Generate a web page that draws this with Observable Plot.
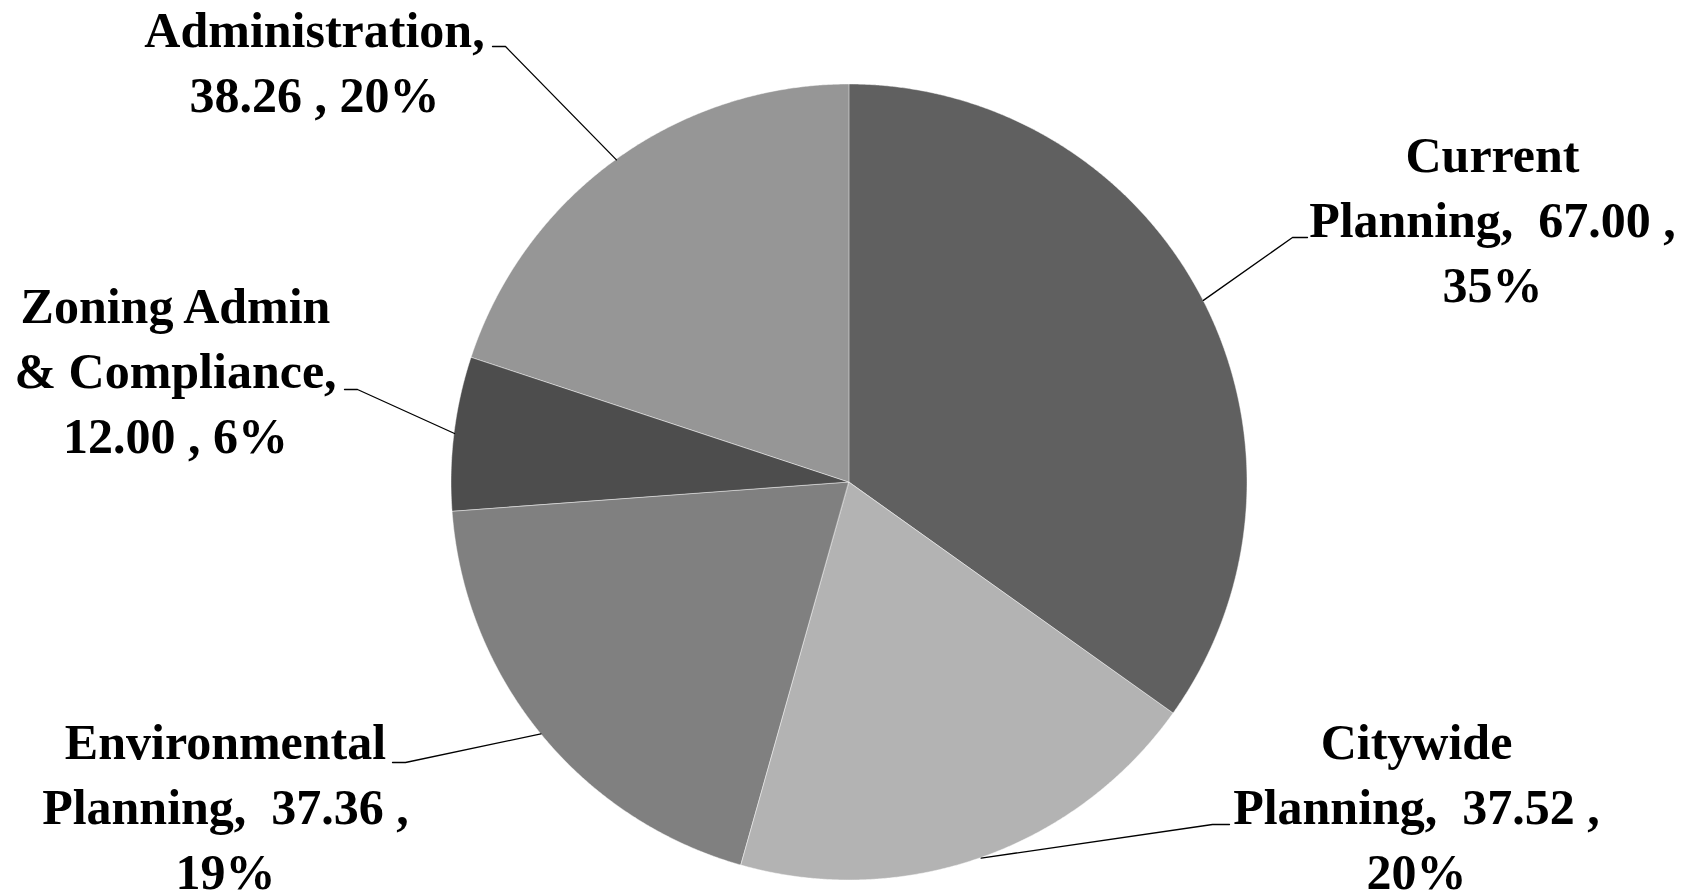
<!DOCTYPE html>
<html>
<head>
<meta charset="utf-8">
<script src="https://cdn.jsdelivr.net/npm/d3@7"></script>
<script src="https://cdn.jsdelivr.net/npm/@observablehq/plot@0.6"></script>
<style>
  html, body { margin: 0; padding: 0; background: #fff; }
  svg text { white-space: pre; }
</style>
</head>
<body>
<div id="chart"></div>
<script>
// ---- data (clockwise from 12 o'clock) ----
const categories = ["Current Planning", "Citywide Planning", "Environmental Planning", "Zoning Admin & Compliance", "Administration"];
const values = [67.00, 37.52, 37.36, 12.00, 38.26];
const colors = ["#606060", "#b3b3b3", "#808080", "#4d4d4d", "#969696"];
// label wrapping as in the reference (line breaks before the value)
const labelHead = ["Current\nPlanning,  ", "Citywide\nPlanning,  ", "Environmental\nPlanning,  ", "Zoning Admin\n& Compliance,\n", "Administration,\n"];
const labelMid = [" ,\n", " ,\n", " ,\n", " , ", " , "];

// ---- layout ----
const W = 1694, H = 893;
const cx = 849, cy = 482, R = 398;
const fontSize = 50;
const lift = 12;
// label block: center x, baseline of first line
const labelPos = [[1492, 173], [1416, 760], [225, 760], [175, 324], [314, 47.5]];
// leader: elbow point and end near text
const leaderText = [[[1292, 237], [1307, 237]], [[1212, 824], [1229, 824]], [[405, 762], [392, 762]], [[357, 389], [344, 389]], [[505, 46], [492, 46]]];

const total = d3.sum(values);
const pie = d3.pie().sort(null).value(d => d)(values);

// sector polygons sampled along the arc
const sectors = [];
pie.forEach((p, i) => {
  const n = Math.max(2, Math.ceil((p.endAngle - p.startAngle) / (Math.PI / 720)));
  for (let k = 0; k <= n; k++) {
    const a = p.startAngle + (p.endAngle - p.startAngle) * k / n;
    sectors.push({name: categories[i], x: cx + R * Math.sin(a), y: cy - R * Math.cos(a)});
  }
});

const leaders = [];
pie.forEach((p, i) => {
  const a = (p.startAngle + p.endAngle) / 2;
  leaders.push({name: categories[i], x: cx + R * Math.sin(a), y: cy - R * Math.cos(a)});
  leaderText[i].forEach(([x, y]) => leaders.push({name: categories[i], x, y}));
});

const labels = categories.map((c, i) => ({
  name: c,
  text: labelHead[i] + values[i].toFixed(2) + labelMid[i] + Math.round(values[i] / total * 100) + "%",
  x: labelPos[i][0],
  y: labelPos[i][1] - 0.71 * fontSize - lift
}));

const chart = Plot.plot({
  width: W, height: H,
  margin: 0,
  x: {domain: [0, W], range: [0, W], axis: null},
  y: {domain: [0, H], range: [0, H], axis: null},
  color: {domain: categories, range: colors},
  style: {background: "#fff", overflow: "visible"},
  marks: [
    Plot.area(sectors, {x1: cx, y1: cy, x2: "x", y2: "y", z: "name", fill: "name", stroke: "#fff", strokeWidth: 1, strokeOpacity: 0.45}),
    Plot.line(leaders, {x: "x", y: "y", z: "name", stroke: "#000", strokeWidth: 1.3}),
    Plot.text(labels, {x: "x", y: "y", text: "text", lineAnchor: "top", lineHeight: 1.3, textAnchor: "middle",
      fontFamily: "Liberation Serif", fontWeight: "bold", fontSize: fontSize, fill: "#000"})
  ]
});
document.getElementById("chart").appendChild(chart);
</script>
</body>
</html>
